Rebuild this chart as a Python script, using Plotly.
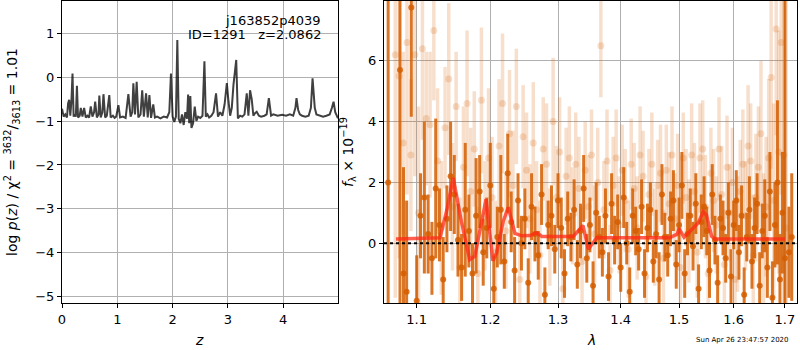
import plotly.graph_objects as go
import numpy as np

# ---------------- left panel: log p(z) ----------------
z_grid = [0.00, 0.03, 0.06, 0.09, 0.11, 0.13, 0.15, 0.17, 0.19, 0.21, 0.23, 0.25, 0.27, 0.29, 0.32,
          0.34, 0.37, 0.40, 0.43, 0.46, 0.49, 0.52, 0.55, 0.58, 0.60, 0.63, 0.66, 0.675, 0.70, 0.73,
          0.75, 0.78, 0.81, 0.855, 0.88, 0.92, 0.95, 0.98, 1.02, 1.05, 1.10, 1.15, 1.20, 1.24, 1.27,
          1.29, 1.32, 1.35, 1.38, 1.42, 1.45, 1.48, 1.52, 1.55, 1.58, 1.61, 1.65, 1.68, 1.72, 1.78,
          1.84, 1.90, 1.94, 1.97, 2.00, 2.03, 2.06, 2.085, 2.11, 2.14, 2.17, 2.20, 2.23, 2.26, 2.28,
          2.30, 2.32, 2.34, 2.37, 2.40, 2.43, 2.46, 2.50, 2.54, 2.575, 2.60, 2.63, 2.66, 2.70, 2.74,
          2.785, 2.82, 2.86, 2.90, 2.94, 2.98, 3.01, 3.04, 3.07, 3.10, 3.15, 3.18, 3.22, 3.26, 3.30,
          3.34, 3.37, 3.40, 3.43, 3.46, 3.49, 3.52, 3.56, 3.60, 3.66, 3.70, 3.74, 3.78, 3.82, 3.90,
          3.98, 4.05, 4.12, 4.18, 4.22, 4.24, 4.27, 4.30, 4.34, 4.40, 4.46, 4.50, 4.53, 4.57, 4.60,
          4.66, 4.72, 4.78, 4.84, 4.88, 4.91, 4.94, 4.99]
logp = [-0.72, -0.90, -0.85, -0.92, -0.60, -0.52, -0.88, -0.55, 0.08, -0.90, -0.85, -0.90, -0.20, -0.92, -0.88,
        -0.70, -0.90, -0.70, -0.92, -0.88, -0.92, -0.67, -0.90, -0.80, -0.56, -0.92, -0.85, -0.42, -0.92, -0.80,
        -0.39, -0.92, -0.88, -0.41, -0.92, -0.88, -0.93, -0.90, -0.64, -0.92, -0.90, -0.93, -0.39, -0.90, -0.80,
        -0.14, -0.85, -0.11, -0.92, -0.85, -0.30, -0.90, -0.37, -0.92, -0.41, -0.93, -0.62, -0.92, -0.90, -0.94,
        -0.90, -0.92, -0.80, 0.08, -0.90, -1.02, -0.90, 0.84, -0.95, -1.05, -0.85, -1.09, -0.80, -0.95, -0.40,
        -1.05, -0.43, -1.16, -1.05, -0.67, -1.00, -0.90, -0.93, -0.88, 0.36, -0.90, -0.85, -0.92, -0.88, -0.80,
        -0.37, -0.90, -0.80, -0.88, -0.62, -0.14, -0.55, -0.88, -0.70, -0.18, 0.39, -0.94, -0.88, -0.90, -0.85,
        -0.37, -0.88, -0.30, -0.50, -0.88, -0.82, -0.79, -0.88, -0.90, -0.88, -0.85, -0.48, -0.88, -0.85, -0.88,
        -0.86, -0.88, -0.85, -0.88, -0.70, -0.48, -0.75, -0.85, -0.88, -0.90, -0.88, -0.70, -0.03, -0.70, -0.85,
        -0.88, -0.90, -0.88, -0.85, -0.70, -0.56, -0.80, -0.94]

# ---------------- right panel: spectrum ----------------
lam_light = [1.0725, 1.0775, 1.0825, 1.0875, 1.0925, 1.0975, 1.1025, 1.1075, 1.1125, 1.1175,
             1.1225, 1.1275, 1.1325, 1.1375, 1.1425, 1.1475, 1.1525, 1.1575, 1.1625, 1.1675,
             1.1725, 1.1775, 1.1825, 1.1875, 1.1925, 1.1975, 1.2025, 1.2075, 1.2125, 1.2175,
             1.2225, 1.2275, 1.2325, 1.2375, 1.2425, 1.2475, 1.2525, 1.2575, 1.2625, 1.2675,
             1.2725, 1.2775, 1.2825, 1.2875, 1.2925, 1.2975, 1.3025, 1.3075, 1.3125, 1.3175,
             1.3225, 1.3275, 1.3325, 1.3375, 1.3425, 1.3475, 1.3525, 1.3575, 1.3625, 1.3675,
             1.3725, 1.3775, 1.3825, 1.3875, 1.3925, 1.3975, 1.4025, 1.4075, 1.4125, 1.4175,
             1.4225, 1.4275, 1.4325, 1.4375, 1.4425, 1.4475, 1.4525, 1.4575, 1.4625, 1.4675,
             1.4725, 1.4775, 1.4825, 1.4875, 1.4925, 1.4975, 1.5025, 1.5075, 1.5125, 1.5175,
             1.5225, 1.5275, 1.5325, 1.5375, 1.5425, 1.5475, 1.5525, 1.5575, 1.5625, 1.5675,
             1.5725, 1.5775, 1.5825, 1.5875, 1.5925, 1.5975, 1.6025, 1.6075, 1.6125, 1.6175,
             1.6225, 1.6275, 1.6325, 1.6375, 1.6425, 1.6475, 1.6525, 1.6575, 1.6625, 1.6675,
             1.6725, 1.6775, 1.6825, 1.6875, 1.6925, 1.6975, 1.7025]
flux_light = [6.2, 5.5, 3.3, 6.6, 2.9, 6.2, 1.0, 6.4, 4.1, 3.9,
              7.0, 2.7, 0.5, 3.8, 5.4, 1.2, 4.5, -0.8, 2.5, 4.6,
              1.7, 3.1, -1.0, 4.7, 0.9, 2.8, 1.5, -0.3, 3.2, 4.6,
              0.4, 3.6, 1.9, 4.5, -1.2, 3.5, 2.4, 0.8, 3.3, 1.1,
              -0.4, 3.1, 2.6, 0.2, 4.0, 1.5, 3.0, -1.5, 2.2, 2.8,
              0.9, 2.6, 1.8, -0.6, 2.4, 1.2, 2.9, 0.3, 2.0, 6.5,
              1.1, 2.7, -0.9, 1.9, 2.8, 0.6, 2.4, 1.4, -0.2, 2.6,
              1.8, 0.5, 2.9, 2.2, -1.1, 1.6, 2.6, 0.2, 1.9, 2.3,
              -0.5, 2.4, 1.3, 2.9, 0.8, 1.9, -0.8, 2.8, 1.5, 0.4,
              2.9, 1.7, -0.3, 2.8, 3.1, 1.2, -1.0, 2.3, 1.4, 0.6,
              3.1, 1.6, -0.7, 2.5, 1.0, 2.0, -1.2, 0.3, 1.7, 2.6,
              0.9, 3.2, 2.7, -0.4, 1.5, 2.5, 3.6, 0.1, 1.2, 2.8,
              5.45, 1.4, 7.05, 3.0, 6.6, 2.9, 0.5]
err_light = [8.0, 6.0, 3.0, 5.0, 2.5, 4.0, 3.5, 3.0, 2.2, 2.4,
             2.3, 2.4, 2.2, 2.0, 2.5, 2.1, 1.8, 2.3, 2.0, 2.4,
             2.1, 1.9, 2.2, 2.4, 1.8, 2.3, 2.0, 1.7, 2.2, 2.3,
             1.9, 2.1, 1.8, 1.9, 2.0, 1.7, 1.9, 1.8, 2.0, 1.6,
             1.8, 1.7, 2.0, 1.6, 2.1, 1.7, 1.8, 1.9, 1.6, 1.7,
             1.6, 1.7, 1.7, 1.8, 1.6, 1.7, 1.5, 1.6, 1.8, 1.7,
             1.6, 1.7, 1.5, 1.6, 1.6, 1.6, 1.5, 1.7, 1.6, 1.5,
             1.5, 1.7, 1.6, 1.5, 1.6, 1.5, 1.7, 1.6, 1.5, 1.6,
             1.6, 1.5, 1.7, 1.6, 1.5, 1.7, 1.6, 1.5, 1.6, 1.7,
             1.7, 1.6, 1.5, 1.8, 1.6, 1.7, 1.6, 1.5, 1.7, 1.6,
             1.7, 1.6, 1.8, 1.7, 1.6, 1.8, 1.7, 1.9, 1.7, 1.8,
             1.8, 2.0, 1.9, 2.0, 2.1, 2.0, 2.4, 2.2, 2.3, 2.6,
             3.0, 3.2, 3.5, 4.0, 5.0, 6.0, 8.0]

lam_dark = [1.0635, 1.0785, 1.0830, 1.0870, 1.0930,
            1.100, 1.105, 1.110, 1.115, 1.120, 1.125, 1.130, 1.135, 1.140, 1.145,
            1.150, 1.155, 1.160, 1.165, 1.170, 1.175, 1.180, 1.185, 1.190, 1.195,
            1.200, 1.205, 1.210, 1.215, 1.220, 1.225, 1.230, 1.235, 1.240, 1.245,
            1.250, 1.255, 1.260, 1.265, 1.270, 1.275, 1.280, 1.285, 1.290, 1.295,
            1.300, 1.305, 1.310, 1.315, 1.320, 1.325, 1.330, 1.335, 1.340, 1.345,
            1.350, 1.355, 1.360, 1.365, 1.370, 1.375, 1.380, 1.385, 1.390, 1.395,
            1.400, 1.405, 1.410, 1.415, 1.420, 1.425, 1.430, 1.435, 1.440, 1.445,
            1.450, 1.455, 1.460, 1.465, 1.470, 1.475, 1.480, 1.485, 1.490, 1.495,
            1.500, 1.505, 1.510, 1.515, 1.520, 1.525, 1.530, 1.535, 1.540, 1.545,
            1.550, 1.555, 1.560, 1.565, 1.570, 1.575, 1.580, 1.585, 1.590, 1.595,
            1.600, 1.605, 1.610, 1.615, 1.620, 1.625, 1.630, 1.635, 1.640, 1.645,
            1.650, 1.655, 1.660, 1.665, 1.670, 1.675, 1.680, 1.685, 1.690, 1.695,
            1.700, 1.708, 1.7137]
flux_dark = [2.0, 5.7, -1.0, -1.6, 7.76,
             -1.9, 0.9, 1.5, 0.3, -0.5, 1.8, 0.6, -1.2, 0.8, 2.2,
             1.6, 0.1, -0.8, 1.1, 0.4, -1.0, 0.9, 1.7, -0.3, 0.5,
             1.9, -1.5, 0.2, 1.1, -0.6, 2.3, 0.7, -0.9, 1.4, 0.0,
             0.8, -1.3, 1.2, 0.3, -0.4, 1.6, -1.7, 0.6, 0.9, -0.2,
             1.4, 0.5, -1.0, 0.8, 0.2, 1.1, -0.7, 0.4, 1.8, -0.5,
             0.6, -1.4, 1.0, 0.2, -0.3, 0.9, -1.1, 1.3, 0.1, 0.7,
             -0.8, 1.5, 0.0, -1.6, 0.9, 0.4, -0.2, 1.2, -1.0, 0.5,
             1.1, -0.6, 0.3, -1.2, 1.6, 0.2, -0.4, 0.8, 1.4, -0.7,
             0.6, 1.9, -1.0, 0.3, 0.9, -0.1, 1.3, -1.5, 0.7, 1.2,
             0.4, -0.9, 1.6, 0.1, -1.3, 0.8, 0.5, -0.5, 1.0, -1.1,
             0.6, 1.4, -0.3, 0.9, -1.7, 0.2, 1.1, -0.6, 0.5, 1.3,
             -1.4, 0.4, 0.9, -0.8, 1.7, -1.8, 0.6, 2.0, -1.2, 1.0,
             -0.5, -0.3, 0.2]
err_dark = [9.0, 9.0, 3.5, 3.0, 3.6,
            1.5, 1.4, 2.5, 1.3, 1.2, 2.3, 1.2, 1.4, 1.1, 1.8,
            1.3, 1.2, 1.1, 2.2, 1.2, 1.0, 1.9, 1.2, 1.1, 1.0,
            1.4, 1.1, 1.0, 1.8, 0.9, 1.3, 1.0, 1.1, 0.9, 0.9,
            1.0, 0.8, 1.1, 0.9, 0.8, 1.0, 0.9, 0.8, 1.0, 0.8,
            0.9, 1.0, 0.8, 0.9, 0.8, 1.0, 0.8, 0.9, 1.1, 0.8,
            0.9, 0.8, 1.0, 0.7, 0.8, 0.9, 0.8, 1.0, 0.8, 0.9,
            0.8, 1.0, 0.7, 0.8, 0.9, 0.8, 0.7, 0.9, 0.8, 0.8,
            0.9, 0.7, 0.8, 0.9, 1.0, 0.8, 0.7, 0.9, 1.0, 0.8,
            0.9, 1.1, 0.8, 0.7, 0.9, 0.8, 1.0, 0.8, 0.9, 1.0,
            0.8, 0.9, 1.0, 0.8, 0.9, 0.8, 0.9, 0.8, 1.0, 0.9,
            0.8, 1.0, 0.9, 1.0, 0.9, 0.8, 1.1, 0.9, 1.0, 1.0,
            1.1, 0.9, 1.2, 1.0, 1.3, 1.2, 1.4, 2.7, 1.5, 2.0,
            9.0, 1.5, 2.1]

lam_model = [1.0734, 1.1307, 1.1400, 1.1486, 1.1596, 1.1711, 1.1783, 1.1940, 1.2037, 1.2089,
             1.2185, 1.2258, 1.2355, 1.2454, 1.2575, 1.2677, 1.2755, 1.3237, 1.3354, 1.3390,
             1.3474, 1.3609, 1.4837, 1.4970, 1.5000, 1.5089, 1.5228, 1.5346, 1.5435, 1.5495,
             1.5588, 1.5650, 1.7000]
f_model = [0.14, 0.18, 1.10, 2.15, 0.72, -0.54, -0.43, 1.45, -0.58, -0.32,
           0.72, 1.18, 0.32, 0.24, 0.25, 0.34, 0.22, 0.22, 0.50, 0.58,
           -0.20, 0.18, 0.18, 0.30, 0.48, 0.20, 0.45, 0.67, 1.03, 0.92,
           0.23, 0.14, 0.14]

x_ticks_left = [0, 1, 2, 3, 4]
y_ticks_left = [-5, -4, -3, -2, -1, 0, 1]
x_ticks_right = [1.1, 1.2, 1.3, 1.4, 1.5, 1.6, 1.7]
y_ticks_right = [0, 2, 4, 6]

G141 = (213, 94, 0)
FONT = "DejaVu Sans"

fig = go.Figure()

fig.add_trace(go.Scatter(x=z_grid, y=logp, mode="lines", xaxis="x", yaxis="y",
                         line=dict(color="rgba(0,0,0,0.75)", width=2), showlegend=False,
                         hoverinfo="skip"))

light = "rgba(%d,%d,%d,0.2)" % G141
dark = "rgba(%d,%d,%d,0.85)" % G141
fig.add_trace(go.Scatter(x=lam_light, y=flux_light, mode="markers", xaxis="x2", yaxis="y2",
                         marker=dict(color=light, size=7, line=dict(width=0)),
                         error_y=dict(type="data", array=err_light, color=light, thickness=3.5, width=0),
                         showlegend=False, hoverinfo="skip"))
fig.add_trace(go.Scatter(x=lam_dark, y=flux_dark, mode="markers", xaxis="x2", yaxis="y2",
                         marker=dict(color=dark, size=6, line=dict(width=0)),
                         error_y=dict(type="data", array=err_dark, color=dark, thickness=3, width=0),
                         showlegend=False, hoverinfo="skip"))
fig.add_trace(go.Scatter(x=lam_model, y=f_model, mode="lines", xaxis="x2", yaxis="y2",
                         line=dict(color="rgba(255,40,20,0.75)", width=3.5), showlegend=False,
                         hoverinfo="skip"))

axis_common = dict(showline=True, linecolor="black", linewidth=1, mirror=True,
                   ticks="outside", ticklen=4, tickwidth=1, tickcolor="black",
                   showgrid=True, gridcolor="#b0b0b0", gridwidth=1, zeroline=False,
                   automargin=False,
                   tickfont=dict(family=FONT, size=13, color="black"))

fig.update_layout(
    width=800, height=350, margin=dict(l=0, r=0, t=0, b=0, pad=0),
    paper_bgcolor="white", plot_bgcolor="white",
    xaxis=dict(domain=[62/800, 338/800], range=[0, 4.99], tickvals=x_ticks_left,
               anchor="y", **axis_common),
    yaxis=dict(domain=[47/350, 349/350], range=[-5.14, 1.73], tickvals=y_ticks_left,
               anchor="x", **axis_common),
    xaxis2=dict(domain=[384/800, 797/800], type="log",
                range=[np.log10(1.0583), np.log10(1.7244)],
                tickvals=x_ticks_right, ticktext=[str(v) for v in x_ticks_right],
                anchor="y2", **axis_common),
    yaxis2=dict(domain=[47/350, 349/350], range=[-1.97, 7.97], tickvals=y_ticks_right,
                anchor="x2", **axis_common),
)

fig.add_shape(type="line", xref="x2 domain", x0=0, x1=1, yref="y2", y0=0, y1=0,
              line=dict(color="black", width=2, dash="dot"), layer="above")

def px(x, y):
    return x / 800, 1 - y / 350

annots = [
    ("j163852p4039", 323, 20, 13, "right", 0),
    ("ID=1291   z=2.0862", 323, 35, 13, "right", 0),
    ("<i>z</i>", 199, 340, 14, "center", 0),
    ("<i>λ</i>", 591, 340, 14, "center", 0),
    ("log <i>p</i>(<i>z</i>) / χ<sup>2</sup> = <sup>3632</sup>/<sub>3613</sub> = 1.01", 12, 152, 14, "center", -90),
    ("<i>f</i><sub>λ</sub> × 10<sup>−19</sup>", 348, 152, 14, "center", -90),
    ("Sun Apr 26 23:47:57 2020", 742, 340, 7, "center", 0),
]
for text, x, y, size, align, ang in annots:
    xp, yp = px(x, y)
    fig.add_annotation(text=text, x=xp, y=yp, xref="paper", yref="paper", showarrow=False,
                       xanchor="right" if align == "right" else "center", yanchor="middle",
                       textangle=ang, font=dict(family=FONT, size=size, color="black"))

fig.write_html("out.html", config={"displayModeBar": False},
               post_script="document.body.style.margin='0';document.body.style.overflow='hidden';")
